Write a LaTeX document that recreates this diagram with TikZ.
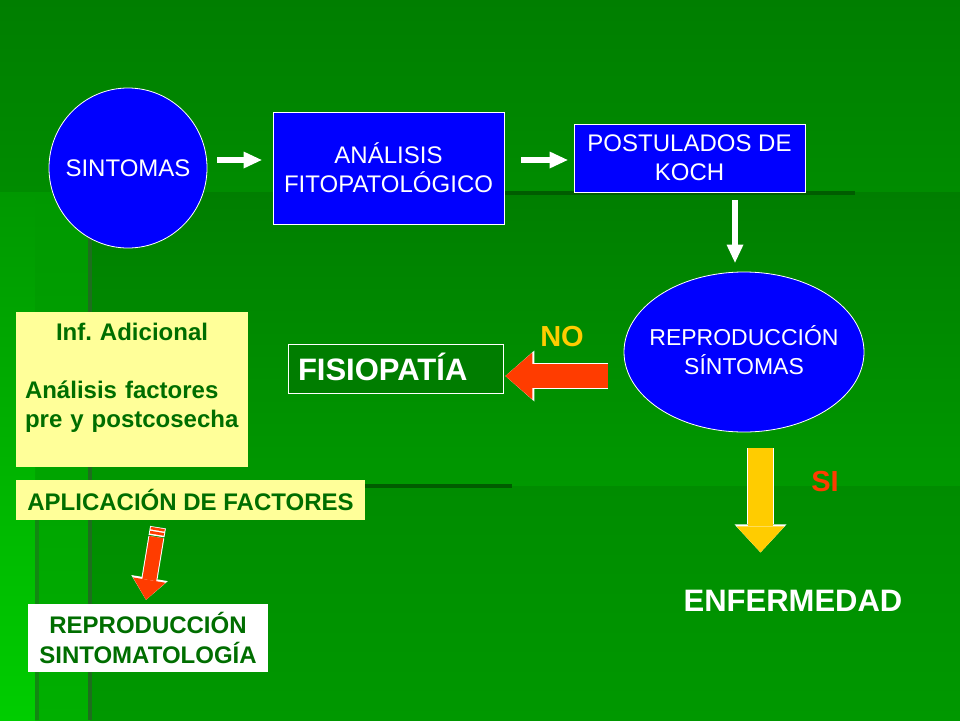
\documentclass[tikz,border=0pt]{standalone}
\usepackage{fontspec}
\setmainfont{Liberation Sans}
\usetikzlibrary{shapes.geometric,arrows.meta,calc}

\definecolor{bgtop}{RGB}{0,126,0}
\definecolor{bgmid}{RGB}{0,140,0}
\definecolor{bglow}{RGB}{0,152,0}
\definecolor{bglight}{RGB}{0,175,0}
\definecolor{bgbright}{RGB}{0,205,0}
\definecolor{bgline}{RGB}{0,92,0}
\definecolor{bgvline}{RGB}{30,110,30}
\definecolor{boxblue}{RGB}{0,0,255}
\definecolor{paleyellow}{RGB}{255,255,153}
\definecolor{textgreen}{RGB}{0,110,0}
\definecolor{fisiogreen}{RGB}{0,125,0}
\definecolor{arrowred}{RGB}{255,60,0}
\definecolor{arrowyellow}{RGB}{255,204,0}

\newcommand\plainfont{\fontsize{24}{29}\selectfont}
\newcommand\boldfont{\fontsize{24}{29}\selectfont\bfseries}
\newcommand\bigfont{\fontsize{31}{37}\selectfont\bfseries}

\begin{document}
\begin{tikzpicture}[x=1pt,y=-1pt,
    bluebox/.style={draw=white, line width=0.8pt, fill=boxblue, text=white, font=\plainfont, align=center, inner sep=0pt},
    blueoval/.style={draw=white, line width=0.8pt, fill=boxblue, text=white, font=\plainfont, ellipse, inner sep=0pt},
    yellowbox/.style={fill=paleyellow, text=textgreen, font=\boldfont, inner sep=0pt},
    whitearrow/.style={draw=white, line width=5.5pt, -{Triangle[width=17pt,length=18pt,line width=0pt]}},
    redarrow/.style={draw=arrowred, line width=24pt, -{Triangle[width=47pt,length=27pt,line width=0pt]},
        preaction={draw=white, line width=26pt, -{Triangle[width=51pt,length=29pt,line width=0pt]}}},
    yellowarrow/.style={draw=arrowyellow, line width=25pt, -{Triangle[width=48pt,length=26pt,line width=0pt]},
        preaction={draw=white, line width=27pt, -{Triangle[width=52pt,length=28pt,line width=0pt]}}},
    slimarrow/.style={draw=arrowred, line width=14pt, -{Triangle[width=33pt,length=20pt,line width=0pt]},
        preaction={draw=white, line width=16pt, -{Triangle[width=37pt,length=22pt,line width=0pt]}}}
]
    \useasboundingbox (0,0) rectangle (960,720);

    % Background
    \shade[top color=bgtop, bottom color=bgmid] (0,0) rectangle (960,192);
    \shade[top color=bgtop, bottom color=bglow] (90,192) rectangle (960,486);
    \shade[top color=bgmid, bottom color=bglow] (90,486) rectangle (960,720);
    \shade[top color=bglow, bottom color=bglight] (0,192) rectangle (90,720);
    \shade[top color=bglow, bottom color=bgbright] (0,192) rectangle (35,720);
    \draw[bgline, line width=4pt] (275,193) -- (855,193);
    \draw[bgline, line width=4pt] (360,486) -- (512,486);
    \draw[bgvline, line width=4pt] (90,192) -- (90,720);
    \draw[bgvline!60!bglight, line width=4pt] (37,486) -- (37,720);

    % Main chain
    \node[blueoval, minimum width=158pt, minimum height=160pt] (sint) at (128,168) {\makebox[0pt]{SINTOMAS}};
    \node[bluebox, minimum width=231pt, minimum height=112pt] (anal) at (388.5,168) {ANÁLISIS\\FITOPATOLÓGICO};
    \node[bluebox, minimum width=231pt, minimum height=68pt] (koch) at (689.5,158) {POSTULADOS DE\\KOCH};
    \node[blueoval, minimum width=240pt, minimum height=160pt, font=\fontsize{23}{28}\selectfont] (repr) at (744,352)
        {\makebox[0pt]{\raisebox{-8.5pt}[0pt][0pt]{\begin{tabular}{@{}c@{}}REPRODUCCIÓN\\SÍNTOMAS\end{tabular}}}};

    \draw[whitearrow] ([xshift=10pt,yshift=8pt]sint.east) -- ([xshift=-11pt,yshift=8pt]anal.west);
    \draw[whitearrow] ([xshift=17pt,yshift=8pt]anal.east) -- ([xshift=-6pt,yshift=-2pt]koch.west);
    \draw[whitearrow] ([xshift=45.5pt,yshift=-8pt]koch.south) -- ([xshift=-9pt,yshift=9pt]repr.north);

    % NO branch
    \node[draw=white, line width=0.8pt, fill=fisiogreen, text=white, font=\bigfont, minimum width=215pt, minimum height=49pt,
        inner sep=0pt, text width=195pt, align=left, text height=23pt, text depth=0pt] (fisio) at (395.5,368.5) {FISIOPATÍA};
    \node[text=arrowyellow, font=\fontsize{29}{34}\selectfont\bfseries] (no) at (562,337) {NO};
    \draw[redarrow] ([xshift=-16pt,yshift=-24pt]repr.west) -- ([xshift=2pt,yshift=-7.5pt]fisio.east);

    % SI branch
    \node[text=arrowred, font=\fontsize{29}{34}\selectfont\bfseries] (si) at (825,482) {SI};
    \node[text=white, font=\bigfont] (enferm) at (793,601) {ENFERMEDAD};
    \draw[yellowarrow] ([xshift=16.5pt,yshift=-16pt]repr.south) -- ++(0,104);

    % Additional information
    \node[yellowbox, minimum width=232pt, minimum height=155pt, text width=214pt, align=left] (inf) at (132,389.5)
        {\hyphenpenalty=10000\makebox[\linewidth]{Inf.\ Adicional}\\[29pt]Análisis factores\\pre y postcosecha\\\mbox{}};
    \node[yellowbox, minimum width=349pt, minimum height=40pt] (aplic) at (190.5,500) {APLICACIÓN DE FACTORES};
    \node[fill=white, text=textgreen, minimum width=240pt, minimum height=68pt, inner sep=0pt, align=center,
        font=\fontsize{24}{30}\selectfont\bfseries] (sintom) at (148,638) {REPRODUCCIÓN\\SINTOMATOLOGÍA};

    \coordinate (st) at ([xshift=-32.5pt,yshift=-7pt]aplic.south);
    \coordinate (tp) at ([xshift=-2pt,yshift=4pt]sintom.north);
    \draw[white, line width=16pt] (st) -- ($(st)!9pt!(tp)$);
    \draw[arrowred, line width=14pt] ($(st)!0.8pt!(tp)$) -- ($(st)!3.3pt!(tp)$);
    \draw[arrowred, line width=14pt] ($(st)!4.8pt!(tp)$) -- ($(st)!7.5pt!(tp)$);
    \draw[slimarrow] ($(st)!10pt!(tp)$) -- (tp);
\end{tikzpicture}
\end{document}
